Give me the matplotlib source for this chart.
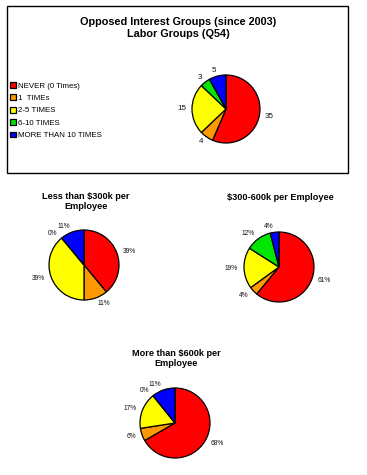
import matplotlib
matplotlib.use("Agg")
import matplotlib.pyplot as plt
from matplotlib.patches import Rectangle

plt.rcParams['font.family'] = ['Liberation Sans', 'DejaVu Sans']

W, H = 367, 475

categories = ["NEVER (0 Times)", "1  TIMEs", "2-5 TIMES", "6-10 TIMES", "MORE THAN 10 TIMES"]
colors = ["#FF0000", "#FF9900", "#FFFF00", "#00E600", "#0000FF"]

top_title = "Opposed Interest Groups (since 2003)\nLabor Groups (Q54)"
top_counts = [35, 4, 15, 3, 5]

sub_titles = ["Less than $300k per\nEmployee", "$300-600k per Employee", "More than $600k per\nEmployee"]
sub_pcts = [
    [39, 11, 39, 0, 11],
    [61, 4, 19, 12, 4],
    [68, 6, 17, 0, 11],
]

fig = plt.figure(figsize=(W / 100, H / 100), dpi=100)
fig.patch.set_facecolor("white")


def fx(x):
    return x / W


def fy(y):
    return 1 - y / H


def draw_pie(cx, cy, r, vals, labels, fs, ld=1.2, half=60):
    ax = fig.add_axes([fx(cx - half), fy(cy + half), 2 * half / W, 2 * half / H])
    lim = half / r
    wedges, texts = ax.pie(vals, colors=colors, startangle=90, counterclock=False,
                           labels=labels, labeldistance=ld,
                           wedgeprops=dict(edgecolor="black", linewidth=0.9),
                           textprops=dict(fontsize=fs, color="#111111"))
    ax.set_xlim(-lim, lim)
    ax.set_ylim(-lim, lim)
    ax.set_aspect("equal")
    ax.axis("off")
    return wedges


# Top framed panel
fig.patches.append(Rectangle((fx(7), fy(173)), fx(348) - fx(7), fy(6) - fy(173),
                             transform=fig.transFigure, fill=False,
                             edgecolor="black", linewidth=1.0))
fig.text(fx(178), fy(28), top_title, ha="center", va="center",
         fontsize=7.8, fontweight="bold", linespacing=1.2)

wedges = draw_pie(226, 109, 34, top_counts, [str(v) for v in top_counts], 5.8, ld=1.16)

fig.legend(wedges, categories, loc="upper left", bbox_to_anchor=(fx(10), fy(82)),
           frameon=False, fontsize=5.7, handlelength=0.75, handleheight=0.75,
           handletextpad=0.25, labelspacing=0.6, borderpad=0, borderaxespad=0)

# Bottom pies
sub_layout = [(84, 265, 35, 86, 192), (279, 267, 35, 280, 193), (175, 423, 35, 176, 349)]
for (cx, cy, r, tx, ty), title, vals in zip(sub_layout, sub_titles, sub_pcts):
    fig.text(fx(tx), fy(ty), title, ha="center", va="top",
             fontsize=6.6, fontweight="bold", linespacing=1.15)
    draw_pie(cx, cy, r, vals, [f"{v}%" for v in vals], 4.8, ld=1.18)

fig.savefig("out.png", dpi=100, facecolor="white")
